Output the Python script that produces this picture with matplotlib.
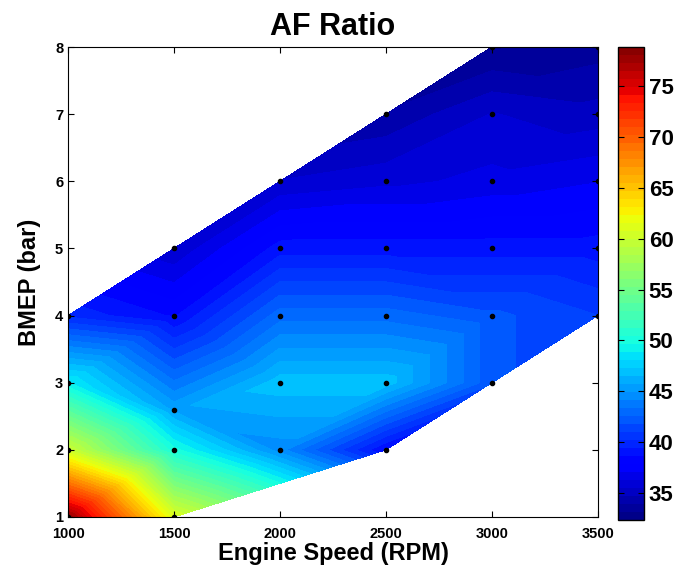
import numpy as np
import matplotlib
matplotlib.use('Agg')
import matplotlib.pyplot as plt
import matplotlib.tri as mtri

plt.rcParams['font.family'] = ['Liberation Sans', 'DejaVu Sans']
plt.rcParams['font.weight'] = 'bold'

# measured operating points: engine speed (RPM), BMEP (bar), AF ratio
rpm = [1000, 1000, 1000, 1000,
       1500, 1500, 1500, 1500, 1500,
       2000, 2000, 2000, 2000, 2000,
       2500, 2500, 2500, 2500, 2500, 2500,
       3000, 3000, 3000, 3000, 3000, 3000,
       3500, 3500, 3500, 3500, 3500]
bmep = [1, 2, 3, 4,
        1, 2, 2.6, 4, 5,
        2, 3, 4, 5, 6,
        2, 3, 4, 5, 6, 7,
        3, 4, 5, 6, 7, 8,
        4, 5, 6, 7, 8]
afr = [78.0, 60.0, 49.0, 40.0,
       61.0, 50.0, 45.5, 38.5, 35.5,
       44.5, 47.0, 43.0, 39.0, 35.5,
       38.5, 47.0, 43.0, 39.0, 36.0, 34.0,
       42.0, 42.0, 39.0, 36.5, 35.5, 33.0,
       41.0, 39.0, 37.0, 35.0, 33.5]

x = np.array(rpm, dtype=float)
y = np.array(bmep, dtype=float)
z = np.array(afr)

# triangulate on normalised coords so triangles follow the grid
tri_n = mtri.Triangulation(x / 500.0, y)
tri = mtri.Triangulation(x, y, triangles=tri_n.triangles)

vmin, vmax = 32.3, 78.9
levels = np.linspace(vmin, vmax, 60)

fig = plt.figure(figsize=(6.81, 5.77), dpi=100)
ax = fig.add_axes([0.0999, 0.104, 0.778, 0.8145])
cax = fig.add_axes([0.9075, 0.0988, 0.038, 0.82])

cs = ax.tricontourf(tri, z, levels=levels, cmap='jet', vmin=vmin, vmax=vmax)
ax.plot(x, y, 'k.', markersize=6)

ax.set_xlim(1000, 3500)
ax.set_ylim(1, 8)
ax.set_xticks([1000, 1500, 2000, 2500, 3000, 3500])
ax.set_yticks([1, 2, 3, 4, 5, 6, 7, 8])
ax.tick_params(direction='in', top=True, right=True, labelsize=10.5, length=4)
ax.tick_params(axis='x', pad=7)
for lab in ax.get_xticklabels() + ax.get_yticklabels():
    lab.set_fontweight('bold')

ax.set_title('AF Ratio', fontsize=22, fontweight='bold', pad=9)
ax.set_xlabel('Engine Speed (RPM)', fontsize=17, fontweight='bold', labelpad=1)
ax.set_ylabel('BMEP (bar)', fontsize=17, fontweight='bold', labelpad=10)

cb = fig.colorbar(cs, cax=cax, ticks=[35, 40, 45, 50, 55, 60, 65, 70, 75])
cb.ax.tick_params(direction='in', labelsize=16, length=4, left=True, right=True)
for lab in cb.ax.get_yticklabels():
    lab.set_fontweight('bold')
cb.outline.set_linewidth(1)

fig.savefig('out.png', dpi=100)
